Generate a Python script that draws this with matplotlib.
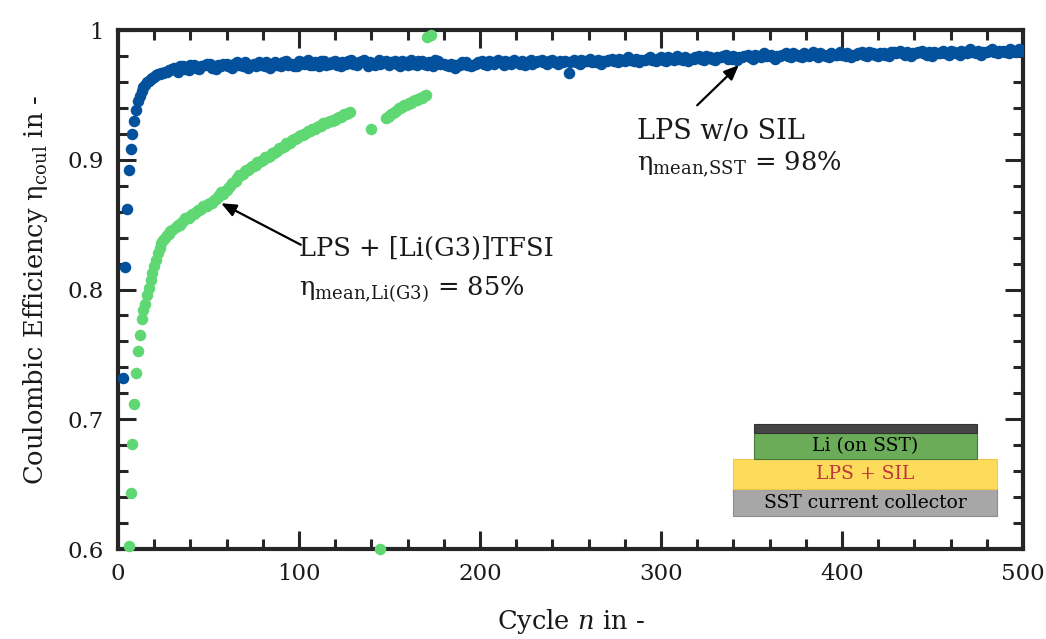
import numpy as np
import matplotlib
matplotlib.use("Agg")
import matplotlib.pyplot as plt
from matplotlib.patches import Rectangle
from matplotlib.ticker import MultipleLocator

# ---------------- data ----------------
# LPS w/o SIL (blue)
blue_early_cycles = [3, 4, 5, 6, 7, 8, 9, 10, 11, 12, 13, 14, 15, 16, 17, 18, 19, 20,
                     21, 22, 23, 24, 25, 26, 27, 28, 29]
blue_early_vals = [0.732, 0.817, 0.862, 0.892, 0.908, 0.920, 0.930, 0.938, 0.945, 0.949,
                   0.953, 0.956, 0.958, 0.960, 0.961, 0.962, 0.963, 0.964, 0.965, 0.966,
                   0.966, 0.967, 0.967, 0.968, 0.968, 0.969, 0.969]
blue_a_cycles = list(range(30, 499, 3)) + [500]
blue_a_vals = [
    0.970, 0.968, 0.972, 0.969, 0.973, 0.970, 0.973, 0.974, 0.970, 0.972,
    0.974, 0.971, 0.975, 0.972, 0.971, 0.974, 0.975, 0.972, 0.971, 0.975,
    0.972, 0.976, 0.974, 0.972, 0.975, 0.977, 0.973, 0.972, 0.976, 0.974,
    0.976, 0.972, 0.974, 0.977, 0.973, 0.976, 0.972, 0.974, 0.977, 0.975,
    0.973, 0.976, 0.972, 0.975, 0.977, 0.973, 0.976, 0.973, 0.972, 0.976,
    0.974, 0.972, 0.971, 0.973, 0.975, 0.972, 0.974, 0.976, 0.973, 0.975,
    0.977, 0.973, 0.975, 0.977, 0.974, 0.973, 0.977, 0.975, 0.977, 0.974,
    0.977, 0.974, 0.975, 0.967, 0.977, 0.974, 0.976, 0.978, 0.975, 0.974,
    0.976, 0.978, 0.975, 0.977, 0.979, 0.976, 0.975, 0.977, 0.979, 0.976,
    0.979, 0.976, 0.978, 0.980, 0.977, 0.976, 0.978, 0.980, 0.977, 0.979,
    0.977, 0.979, 0.981, 0.978, 0.977, 0.979, 0.981, 0.978, 0.980, 0.982,
    0.980, 0.978, 0.980, 0.982, 0.979, 0.981, 0.979, 0.981, 0.983, 0.979,
    0.981, 0.979, 0.981, 0.983, 0.980, 0.979, 0.981, 0.983, 0.980, 0.982,
    0.980, 0.982, 0.980, 0.983, 0.984, 0.981, 0.980, 0.982, 0.984, 0.981,
    0.980, 0.982, 0.984, 0.981, 0.983, 0.981, 0.983, 0.985, 0.982, 0.981,
    0.983, 0.985, 0.982, 0.984, 0.982, 0.984, 0.985,
    0.984,
]
blue_b_cycles = list(range(31, 500, 3))
blue_b_vals = [
    0.971, 0.972, 0.970, 0.973, 0.971, 0.972, 0.974, 0.971, 0.973, 0.974,
    0.972, 0.974, 0.973, 0.975, 0.973, 0.972, 0.973, 0.975, 0.974, 0.973,
    0.975, 0.973, 0.972, 0.976, 0.974, 0.973, 0.975, 0.976, 0.973, 0.975,
    0.973, 0.975, 0.976, 0.974, 0.975, 0.977, 0.975, 0.973, 0.974, 0.976,
    0.975, 0.974, 0.976, 0.973, 0.974, 0.976, 0.974, 0.975, 0.977, 0.974,
    0.973, 0.974, 0.973, 0.975, 0.973, 0.973, 0.975, 0.974, 0.976, 0.974,
    0.975, 0.976, 0.974, 0.975, 0.976, 0.975, 0.974, 0.976, 0.975, 0.976,
    0.975, 0.976, 0.976, 0.975, 0.975, 0.977, 0.976, 0.975, 0.977, 0.976,
    0.977, 0.976, 0.978, 0.976, 0.977, 0.978, 0.977, 0.978, 0.977, 0.978,
    0.977, 0.979, 0.977, 0.978, 0.979, 0.978, 0.979, 0.978, 0.980, 0.978,
    0.979, 0.980, 0.978, 0.980, 0.979, 0.980, 0.979, 0.981, 0.979, 0.980,
    0.981, 0.980, 0.981, 0.980, 0.982, 0.980, 0.982, 0.980, 0.981, 0.982,
    0.980, 0.982, 0.981, 0.981, 0.982, 0.981, 0.982, 0.981, 0.983, 0.981,
    0.982, 0.981, 0.983, 0.982, 0.982, 0.983, 0.982, 0.983, 0.982, 0.983,
    0.983, 0.982, 0.982, 0.984, 0.982, 0.984, 0.982, 0.983, 0.984, 0.983,
    0.984, 0.983, 0.984, 0.983, 0.985, 0.983, 0.984,
]

# LPS + [Li(G3)]TFSI (green)
green_early_cycles = list(range(6, 31))
green_early_vals = [0.602, 0.643, 0.681, 0.712, 0.736, 0.753, 0.765, 0.777, 0.784, 0.789,
                    0.796, 0.801, 0.807, 0.813, 0.818, 0.823, 0.828, 0.832, 0.836, 0.838,
                    0.840, 0.842, 0.843, 0.845, 0.846]
green_even_cycles = list(range(32, 129, 2))
green_even_vals = [
    0.848, 0.850, 0.853, 0.855, 0.857, 0.858, 0.861, 0.862, 0.864, 0.866,
    0.867, 0.870, 0.873, 0.874, 0.877, 0.880, 0.883, 0.886, 0.888, 0.891,
    0.892, 0.895, 0.896, 0.898, 0.900, 0.902, 0.903, 0.905, 0.907, 0.909,
    0.911, 0.913, 0.915, 0.916, 0.918, 0.919, 0.921, 0.922, 0.924, 0.925,
    0.926, 0.928, 0.929, 0.930, 0.931, 0.933, 0.934, 0.935, 0.937,
]
green_odd_cycles = list(range(33, 128, 2))
green_odd_vals = [
    0.850, 0.851, 0.855, 0.855, 0.858, 0.860, 0.861, 0.864, 0.864, 0.867,
    0.869, 0.871, 0.875, 0.876, 0.878, 0.882, 0.884, 0.888, 0.889, 0.892,
    0.894, 0.895, 0.898, 0.899, 0.902, 0.902, 0.905, 0.906, 0.909, 0.910,
    0.913, 0.913, 0.916, 0.917, 0.919, 0.920, 0.922, 0.924, 0.924, 0.926,
    0.928, 0.928, 0.930, 0.931, 0.932, 0.933, 0.935, 0.936,
]
green_late_cycles = [140, 145, 148, 149, 150, 151, 152, 153, 154, 155, 156, 157, 158, 159,
                     160, 161, 162, 163, 164, 165, 166, 167, 168, 169, 170, 171, 173]
green_late_vals = [0.924, 0.600, 0.932, 0.933, 0.934, 0.935, 0.936, 0.937, 0.938, 0.940,
                   0.940, 0.941, 0.942, 0.942, 0.943, 0.944, 0.944, 0.945, 0.946, 0.946,
                   0.947, 0.948, 0.948, 0.949, 0.950, 0.995, 0.996]

x_ticks = [0, 100, 200, 300, 400, 500]
y_ticks = [0.6, 0.7, 0.8, 0.9, 1.0]
y_ticklabels = ["0.6", "0.7", "0.8", "0.9", "1"]

# ---------------- style ----------------
FONT = "DejaVu Serif"
plt.rcParams["font.family"] = [FONT]
plt.rcParams["mathtext.fontset"] = "custom"
plt.rcParams["mathtext.rm"] = FONT
plt.rcParams["mathtext.it"] = FONT + ":italic"

BLUE = "#03519c"
GREEN = "#5fd874"
AXC = "#262626"
TXT = "#1a1a1a"

fig = plt.figure(figsize=(10.46, 6.39), dpi=100)
ax = fig.add_axes([0.1128, 0.1408, 0.8652, 0.8122])

ms = 8.3
blue_x = blue_early_cycles + blue_a_cycles + blue_b_cycles
blue_y = blue_early_vals + blue_a_vals + blue_b_vals
green_x = green_early_cycles + green_even_cycles + green_odd_cycles + green_late_cycles
green_y = green_early_vals + green_even_vals + green_odd_vals + green_late_vals
ax.plot(blue_x, blue_y, "o", color=BLUE, ms=ms, mec="none", zorder=3)
ax.plot(green_x, green_y, "o", color=GREEN, ms=ms, mec="none", zorder=4, clip_on=False)

ax.set_xlim(0, 500)
ax.set_ylim(0.6, 1.0)
ax.set_xticks(x_ticks)
ax.set_yticks(y_ticks)
ax.set_yticklabels(y_ticklabels)
ax.xaxis.set_minor_locator(MultipleLocator(20))
ax.yaxis.set_minor_locator(MultipleLocator(0.02))
ax.tick_params(which="both", direction="in", top=True, right=True, color=AXC,
               width=2.2, labelsize=16.5, labelcolor=TXT)
ax.tick_params(which="major", length=13, pad=10)
ax.tick_params(which="minor", length=7)
for s in ax.spines.values():
    s.set_linewidth(3)
    s.set_color(AXC)

ax.set_xlabel(r"Cycle $\mathit{n}$ in -", fontsize=18.5, labelpad=16, color=TXT)
ax.set_ylabel(r"Coulombic Efficiency η$_{\mathrm{coul}}$ in -", fontsize=18.5,
              labelpad=13, color=TXT)

# annotations
ap = dict(arrowstyle="-|>,head_length=0.9,head_width=0.38",
          color="black", lw=1.6, shrinkA=0, shrinkB=0)
ax.annotate("", xy=(343, 0.973), xytext=(320, 0.942), arrowprops=ap)
ax.text(287, 0.9215, "LPS w/o SIL", fontsize=19.5, ha="left", va="center", color=TXT)
ax.text(287, 0.897, r"η$_{\mathrm{mean{,}SST}}$ = 98%", fontsize=18.5, ha="left",
        va="center", color=TXT)

ax.annotate("", xy=(57, 0.8665), xytext=(101, 0.8345), arrowprops=ap)
ax.text(100, 0.832, "LPS + [Li(G3)]TFSI", fontsize=18.5, ha="left", va="center", color=TXT)
ax.text(100, 0.800, r"η$_{\mathrm{mean{,}Li(G3)}}$ = 85%", fontsize=18.5, ha="left",
        va="center", color=TXT)

# inset layer stack (axes coordinates)
def layer(x0, y0, x1, y1, fc, ec, label=None, tc="black"):
    ax.add_patch(Rectangle((x0, y0), x1 - x0, y1 - y0, transform=ax.transAxes,
                           facecolor=fc, edgecolor=ec, lw=0.8, zorder=5))
    if label:
        ax.text((x0 + x1) / 2, (y0 + y1) / 2, label, transform=ax.transAxes,
                ha="center", va="center", fontsize=13.5, color=tc, zorder=6)

X = lambda px: (px - 118) / 905.0
Y = lambda py: (549 - py) / 519.0
layer(X(733), Y(516), X(997), Y(489), "#a7a7a7", "#8c8c8c", "SST current collector")
layer(X(733), Y(489), X(997), Y(459), "#fcdc5a", "#f2c84b", "LPS + SIL", tc="#c0343c")
layer(X(754), Y(459), X(977), Y(433), "#6aac58", "#4a7a3a", "Li (on SST)")
layer(X(754), Y(433), X(977), Y(424), "#444444", "#333333")

fig.savefig("out.png", dpi=100)
